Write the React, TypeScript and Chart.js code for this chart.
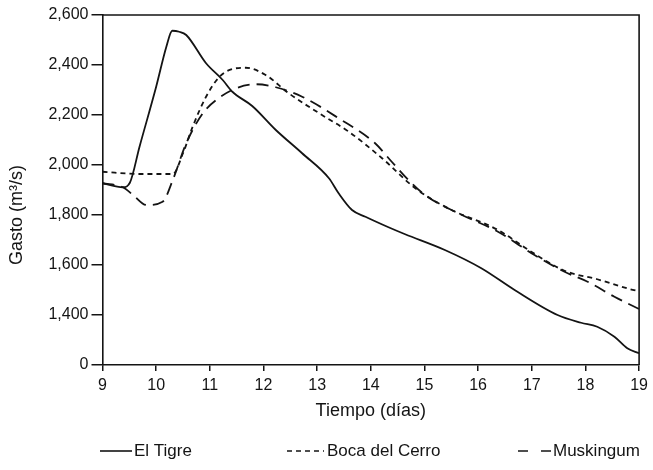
import React, { useEffect, useRef } from "react";
import { Chart, registerables } from "chart.js";

Chart.register(...registerables);

const tigreDays = [9, 9.38, 9.51, 9.69, 10.0, 10.19, 10.3, 10.43, 10.56, 10.93, 11.24, 11.42, 11.79, 12.23, 12.72, 13.22, 13.4, 13.65, 13.9, 14.33, 14.64, 15.38, 16.06, 16.68, 17.48, 17.92, 18.22, 18.54, 18.78, 19];
const tigreFlow = [1927, 1911, 1929, 2073, 2313, 2473, 2537, 2533, 2520, 2407, 2340, 2293, 2236, 2140, 2047, 1947, 1887, 1820, 1793, 1751, 1723, 1660, 1587, 1500, 1400, 1369, 1353, 1313, 1267, 1247];

const bocaDays = [9, 9.69, 10.31, 10.5, 10.68, 10.93, 11.18, 11.42, 11.67, 12.04, 12.47, 13.09, 13.59, 14.21, 14.83, 15.44, 16.37, 16.99, 17.61, 18.22, 18.84, 19];
const bocaFlow = [1973, 1964, 1964, 2047, 2153, 2273, 2353, 2384, 2389, 2360, 2287, 2200, 2133, 2027, 1907, 1827, 1740, 1653, 1577, 1543, 1503, 1495];

const muskDays = [9, 9.38, 9.57, 9.82, 10.12, 10.31, 10.56, 10.87, 11.12, 11.49, 11.86, 12.23, 12.72, 13.4, 14.08, 14.39, 14.7, 15.01, 15.63, 16.37, 17.05, 17.61, 18.04, 18.54, 19];
const muskFlow = [1927, 1911, 1880, 1840, 1853, 1940, 2087, 2207, 2260, 2307, 2323, 2311, 2273, 2187, 2087, 2013, 1940, 1880, 1807, 1733, 1640, 1573, 1533, 1473, 1424];

const seriesNames = ["El Tigre", "Boca del Cerro", "Muskingum"];
const xTitle = "Tiempo (días)";
const yTitle = "Gasto (m³/s)";
const yBreakValue = 1200; // axis break: bottom tick shown as "0"

const FONT = "'Liberation Sans', Arial, Helvetica, sans-serif";
const INK = "#141414";

const toPoints = (xs: number[], ys: number[]) => xs.map((x, i) => ({ x, y: ys[i] }));

const decorPlugin = {
  id: "decor",
  afterDraw(chart: any) {
    const { ctx, chartArea } = chart;
    ctx.save();
    // frame (top and right sides)
    ctx.strokeStyle = INK;
    ctx.lineWidth = 1.6;
    ctx.beginPath();
    ctx.moveTo(chartArea.left, chartArea.top);
    ctx.lineTo(chartArea.right, chartArea.top);
    ctx.lineTo(chartArea.right, chartArea.bottom);
    ctx.stroke();

    // y title
    ctx.fillStyle = INK;
    ctx.font = `18px ${FONT}`;
    ctx.textAlign = "center";
    ctx.textBaseline = "middle";
    ctx.save();
    ctx.translate(17, 215);
    ctx.rotate(-Math.PI / 2);
    ctx.fillText(yTitle, 0, 0);
    ctx.restore();

    // legend
    const ly = 451;
    ctx.font = `17px ${FONT}`;
    ctx.textAlign = "left";
    ctx.textBaseline = "middle";
    ctx.lineWidth = 1.6;
    const items = [
      { x0: 100, x1: 132, tx: 134, dash: [] as number[] },
      { x0: 287, x1: 324, tx: 327, dash: [5, 4] },
      { x0: 518, x1: 551, tx: 553, dash: [10, 13] },
    ];
    items.forEach((it, i) => {
      ctx.setLineDash(it.dash);
      ctx.beginPath();
      ctx.moveTo(it.x0, ly);
      ctx.lineTo(it.x1, ly);
      ctx.stroke();
      ctx.setLineDash([]);
      ctx.fillText(seriesNames[i], it.tx, ly);
    });
    ctx.restore();
  },
};

export default function App() {
  const canvasRef = useRef<HTMLCanvasElement | null>(null);

  useEffect(() => {
    if (!canvasRef.current) return;
    const common = {
      borderColor: INK,
      borderWidth: 1.8,
      pointRadius: 0,
      fill: false,
      cubicInterpolationMode: "monotone" as const,
    };
    const chart = new Chart(canvasRef.current, {
      type: "line",
      data: {
        datasets: [
          { ...common, label: seriesNames[0], data: toPoints(tigreDays, tigreFlow) },
          { ...common, label: seriesNames[1], data: toPoints(bocaDays, bocaFlow), borderDash: [5, 4] },
          { ...common, label: seriesNames[2], data: toPoints(muskDays, muskFlow), borderDash: [12, 7] },
        ],
      },
      options: {
        responsive: false,
        animation: false,
        layout: { padding: { left: 0, right: 11, top: 15, bottom: 48 } },
        plugins: {
          legend: { display: false },
          tooltip: { enabled: false },
        },
        scales: {
          x: {
            type: "linear",
            min: 9,
            max: 19,
            afterFit: (s: any) => {
              s.height = 57;
            },
            ticks: {
              stepSize: 1,
              color: INK,
              padding: 5,
              font: { family: FONT, size: 16 },
            },
            grid: { drawOnChartArea: false, drawTicks: true, tickLength: 6, color: INK, lineWidth: 1.5 },
            border: { display: true, color: INK, width: 1.6 },
            title: {
              display: true,
              text: xTitle,
              color: INK,
              font: { family: FONT, size: 18 },
              padding: 0,
            },
          },
          y: {
            type: "linear",
            min: yBreakValue,
            max: 2600,
            afterFit: (s: any) => {
              s.width = 102.5;
            },
            ticks: {
              stepSize: 200,
              color: INK,
              padding: 3,
              font: { family: FONT, size: 16 },
              callback: (v: any) => (v === yBreakValue ? "0" : Number(v).toLocaleString("en-US")),
            },
            grid: { drawOnChartArea: false, drawTicks: true, tickLength: 11, color: INK, lineWidth: 1.5 },
            border: { display: true, color: INK, width: 1.6 },
          },
        },
      },
      plugins: [decorPlugin],
    });
    return () => chart.destroy();
  }, []);

  return (
    <div style={{ position: "fixed", left: 0, top: 0, width: 653, height: 470, background: "#fff" }}>
      <canvas ref={canvasRef} width={653} height={470} />
    </div>
  );
}
